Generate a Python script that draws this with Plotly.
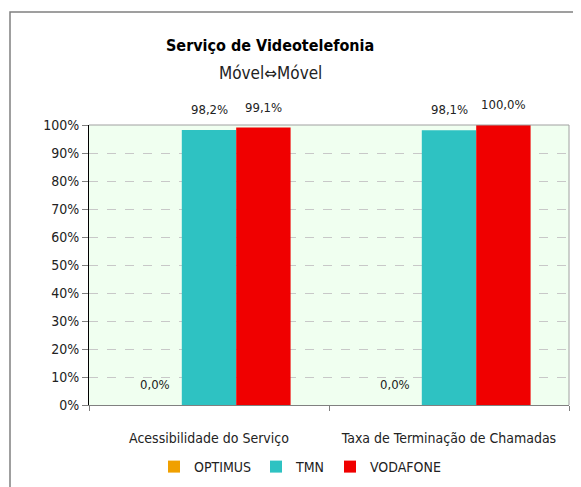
import plotly.graph_objects as go

categories = ["Acessibilidade do Serviço", "Taxa de Terminação de Chamadas"]
series_names = ["OPTIMUS", "TMN", "VODAFONE"]
optimus = [0.0, 0.0]
tmn = [0.982, 0.981]
vodafone = [0.991, 1.000]
y_ticks = [i / 10 for i in range(11)]
y_tick_labels = [f"{i*10}%" for i in range(11)]

series_values = [optimus, tmn, vodafone]
colors = ["#F0A000", "#2EC2C2", "#F00000"]

FONT = "DejaVu Sans Condensed, Liberation Sans Narrow, Arial Narrow, sans-serif"

# page body has an 8px margin, so the figure is drawn 8px in from the window edge
W, H = 573, 479
ML, MR, MT, MB = 81, 12, 117, 82
plot_w = W - ML - MR
ph = H - MT - MB
bargap = 0.32
bar_px = plot_w / len(categories) * (1 - bargap) / len(series_names)

fig = go.Figure()
for name, vals, col in zip(series_names, series_values, colors):
    fig.add_trace(go.Bar(
        x=categories, y=vals, name=name,
        marker=dict(color=col, line=dict(width=0)),
        hoverinfo="skip",
    ))

def fmt(v):
    return f"{v*100:.1f}%".replace(".", ",")

annotations = []
for i, vals in enumerate(series_values):
    for j, v in enumerate(vals):
        annotations.append(dict(
            x=categories[j], y=v, xref="x", yref="y",
            text=fmt(v), showarrow=False,
            xshift=(i - 1) * bar_px, yanchor="bottom", yshift=11,
            font=dict(family=FONT, size=13, color="#222"),
        ))

annotations.append(dict(
    x=(262 - ML) / plot_w, y=(H - MB - 38) / ph, xref="paper", yref="paper",
    text="<b>Serviço de Videotelefonia</b>", showarrow=False,
    font=dict(family=FONT, size=16, color="#000"), yanchor="middle",
))
annotations.append(dict(
    x=(262 - ML) / plot_w, y=(H - MB - 65) / ph, xref="paper", yref="paper",
    text="Móvel⇔Móvel", showarrow=False,
    font=dict(family=FONT, size=17, color="#222"), yanchor="middle",
))

shapes = [dict(
    type="rect", xref="paper", yref="paper",
    x0=(2 - ML) / plot_w, x1=(W + 5 - ML) / plot_w,
    y0=(H - MB - (H + 5)) / ph, y1=(H - MB - 4) / ph,
    line=dict(color="#808080", width=1.5), fillcolor="rgba(0,0,0,0)", layer="below",
), dict(
    type="line", xref="paper", yref="paper", x0=0, x1=1, y0=1, y1=1,
    line=dict(color="#A0A0A0", width=1),
), dict(
    type="line", xref="paper", yref="paper", x0=1, x1=1, y0=0, y1=1,
    line=dict(color="#A0A0A0", width=1),
)]

fig.update_layout(
    width=W, height=H,
    margin=dict(l=ML, r=MR, t=MT, b=MB, autoexpand=False),
    paper_bgcolor="white", plot_bgcolor="#F0FFF0",
    barmode="group", bargap=bargap, bargroupgap=0,
    font=dict(family=FONT, size=14, color="#222"),
    showlegend=True,
    legend=dict(orientation="h", x=(292 - ML) / plot_w, xanchor="center",
                yref="container", y=1 - 459 / H, yanchor="middle",
                font=dict(size=14, color="#222"),
                itemwidth=30, tracegroupgap=0, itemclick=False),
    annotations=annotations,
    shapes=shapes,
    xaxis=dict(
        automargin=False, tickangle=0,
        showline=True, linecolor="#808080", linewidth=1,
        ticks="outside", tickson="boundaries", ticklen=5, tickcolor="#808080",
        tickfont=dict(size=14, color="#222"), ticklabelstandoff=20,
        showgrid=False,
    ),
    yaxis=dict(
        automargin=False,
        range=[0, 1], tickvals=y_ticks, ticktext=y_tick_labels,
        showline=True, linecolor="#000", linewidth=1,
        ticks="outside", ticklen=6, tickcolor="#808080",
        tickfont=dict(size=14, color="#222"),
        showgrid=True, gridcolor="#C8C8C8", griddash="dash", gridwidth=1,
        zeroline=False,
    ),
)

fig.write_html("out.html")
